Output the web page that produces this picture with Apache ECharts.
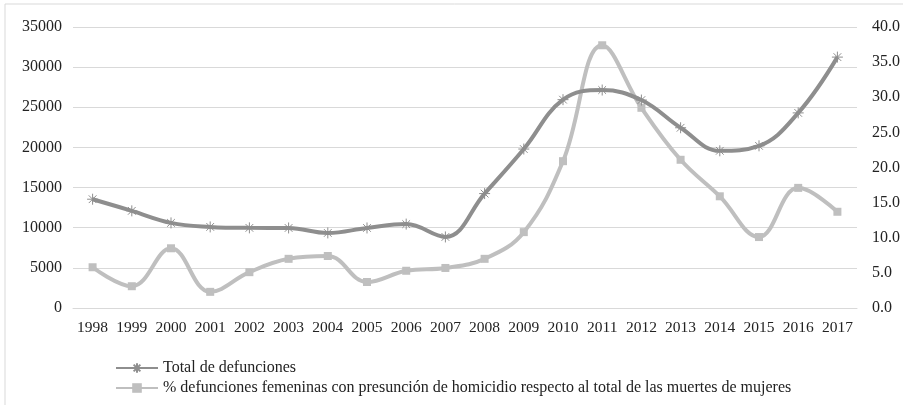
<!DOCTYPE html>
<html>
<head>
<meta charset="utf-8">
<script src="https://cdn.jsdelivr.net/npm/echarts@6/dist/echarts.min.js"></script>
<style>
	html, body { margin: 0; padding: 0; background: #fff; }
	#chart { width: 903px; height: 405px; }
</style>
</head>
<body>
<div id="chart"></div>
<script>
//Chart data
let years = ['1998', '1999', '2000', '2001', '2002', '2003', '2004', '2005', '2006', '2007',
	'2008', '2009', '2010', '2011', '2012', '2013', '2014', '2015', '2016', '2017'];
let totalDeaths = [13550, 12100, 10600, 10100, 9980, 9970, 9350, 9970, 10450, 8850,
	14250, 19800, 25950, 27150, 25900, 22450, 19580, 20200, 24300, 31250];
let femalePct = [5.8, 3.1, 8.5, 2.3, 5.1, 7.0, 7.4, 3.7, 5.3, 5.7,
	7.0, 10.8, 20.9, 37.4, 28.5, 21.1, 15.9, 10.1, 17.1, 13.7];
let seriesNames = ['Total de defunciones',
	'% defunciones femeninas con presunción de homicidio respecto al total de las muertes de mujeres'];

let darkGray = '#8e8e8e';
let lightGray = '#bfbfbf';
let font = '"Liberation Serif", "DejaVu Serif", serif';

//Asterisk marker, drawn with stroke only
let starPath = 'path://M0,5L10,5M5,0L5,10M1.5,1.5L8.5,8.5M8.5,1.5L1.5,8.5';

let chart = echarts.init(document.getElementById('chart'));
chart.setOption({
	animation: false,
	textStyle: { fontFamily: font },
	graphic: [{
		type: 'rect',
		shape: { x: 5, y: 4, width: 910, height: 420 },
		style: { fill: 'none', stroke: '#d9d9d9', lineWidth: 1 }
	}],
	grid: { left: 73, right: 45, top: 27, bottom: 97 },
	legend: {
		orient: 'vertical',
		left: 110,
		top: 355,
		itemWidth: 42,
		itemHeight: 12,
		itemGap: 4,
		textStyle: { fontFamily: font, fontSize: 16, color: '#222' },
		data: seriesNames
	},
	xAxis: {
		type: 'category',
		data: years,
		boundaryGap: true,
		axisLine: { lineStyle: { color: '#d9d9d9' } },
		axisTick: { show: false },
		axisLabel: { fontFamily: font, fontSize: 15.5, color: '#222', margin: 12, interval: 0 }
	},
	yAxis: [{
		type: 'value',
		min: 0, max: 35000, interval: 5000,
		axisLabel: {
			fontFamily: font, fontSize: 16, color: '#222', margin: 11,
			formatter: function (v) { return String(v); }
		},
		splitLine: { lineStyle: { color: '#d9d9d9' } }
	}, {
		type: 'value',
		min: 0, max: 40, interval: 5,
		axisLabel: {
			fontFamily: font, fontSize: 16, color: '#222', margin: 15,
			formatter: function (v) { return v.toFixed(1); }
		},
		splitLine: { show: false }
	}],
	series: [{
		name: seriesNames[0],
		type: 'line',
		yAxisIndex: 0,
		data: totalDeaths,
		smooth: 0.4,
		symbol: starPath,
		symbolSize: 11,
		itemStyle: { color: darkGray, borderColor: darkGray, borderWidth: 1 },
		lineStyle: { color: darkGray, width: 4 },
		z: 3
	}, {
		name: seriesNames[1],
		type: 'line',
		yAxisIndex: 1,
		data: femalePct,
		smooth: 0.4,
		symbol: 'rect',
		symbolSize: 8,
		itemStyle: { color: lightGray },
		lineStyle: { color: lightGray, width: 4 },
		z: 2
	}]
});
</script>
</body>
</html>
